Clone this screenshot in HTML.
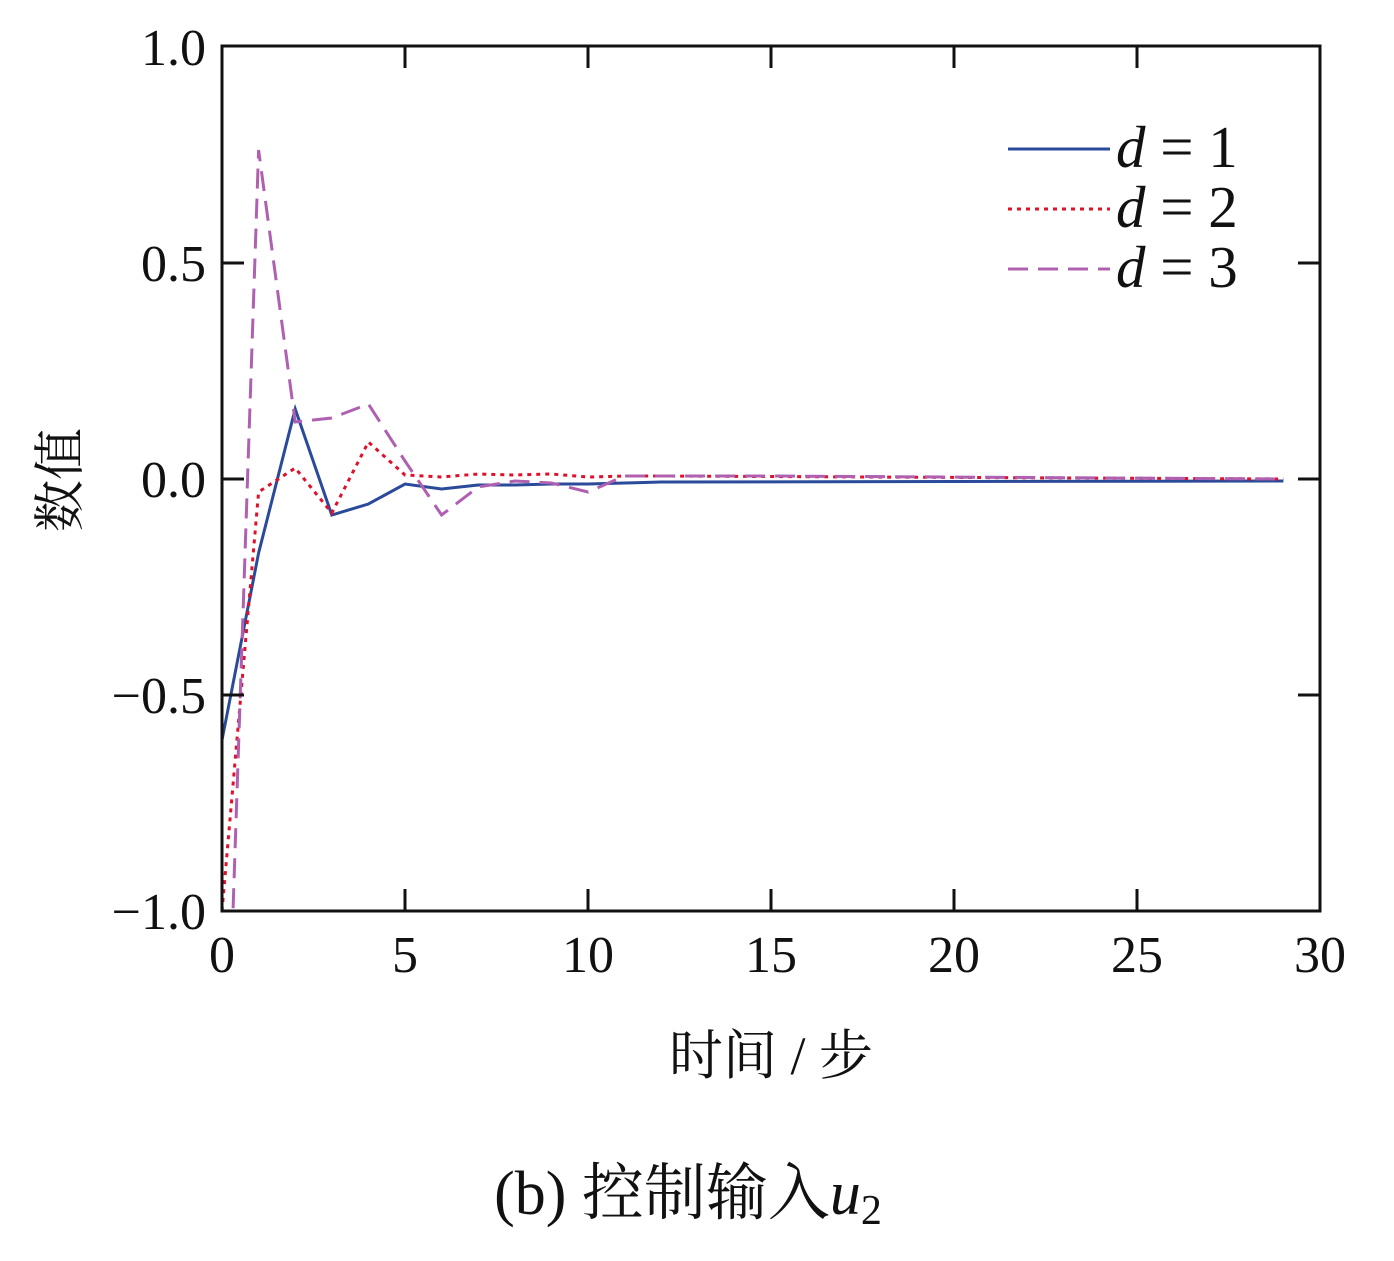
<!DOCTYPE html>
<html><head><meta charset="utf-8"><style>
body{margin:0;background:#fff;}
svg{display:block;}
text{font-family:"Liberation Serif","Noto Serif CJK SC",serif;fill:#111;}
</style></head><body>
<svg width="1394" height="1261" viewBox="0 0 1394 1261" xmlns="http://www.w3.org/2000/svg">
<defs><clipPath id="c"><rect x="222" y="46" width="1098" height="865"/></clipPath></defs>
<g clip-path="url(#c)" fill="none" stroke-width="3">
<polyline stroke="#2a4a9a" points="222,740 258.6,553 295.2,409 331.8,515 368.4,504 405,484 441.6,489 478.2,485 514.8,485 551.4,484 588,484 624.6,483 661.2,482 1283.4,481"/>
<polyline stroke="#e0102a" stroke-dasharray="4,5" points="222,911 258.6,492 295.2,468 331.8,513 368.4,442 405,475 441.6,477 478.2,474 514.8,475 551.4,474 588,477 624.6,476 661.2,476 1283.4,479"/>
<polyline stroke="#b060b0" stroke-dasharray="20,10" points="222,1238 258.6,150 295.2,422 331.8,418 368.4,404 405,461 441.6,515 478.2,487 514.8,481 551.4,483 588,492 624.6,476 661.2,476 771,476 1283.4,479"/>
</g>
<g stroke="#111" stroke-width="3" fill="none">
<rect x="222" y="46" width="1098" height="865"/>
<path d="M405,911v-22M588,911v-22M771,911v-22M954,911v-22M1137,911v-22M405,46v22M588,46v22M771,46v22M954,46v22M1137,46v22M222,263h22M222,479h22M222,695h22M1320,263h-22M1320,479h-22M1320,695h-22"/>
</g>
<g font-size="52" text-anchor="end">
<text x="206" y="65">1.0</text><text x="206" y="281">0.5</text><text x="206" y="497">0.0</text><text x="206" y="713">−0.5</text><text x="206" y="929">−1.0</text>
</g>
<g font-size="52" text-anchor="middle">
<text x="222" y="972">0</text><text x="405" y="972">5</text><text x="588" y="972">10</text><text x="771" y="972">15</text><text x="954" y="972">20</text><text x="1137" y="972">25</text><text x="1320" y="972">30</text>
</g>
<text font-size="52" text-anchor="middle" transform="translate(78,480) rotate(-90)">数值</text>
<text font-size="54" text-anchor="middle" x="771" y="1074">时间 / 步</text>
<text font-size="62" text-anchor="middle" x="688" y="1214">(b) 控制输入<tspan font-style="italic">u</tspan><tspan font-size="42" dy="10">2</tspan></text>
<g stroke-width="3">
<line x1="1008" y1="149" x2="1110" y2="149" stroke="#2a4a9a"/>
<line x1="1008" y1="209" x2="1110" y2="209" stroke="#e0102a" stroke-dasharray="4,5"/>
<line x1="1008" y1="269" x2="1110" y2="269" stroke="#b060b0" stroke-dasharray="20,10"/>
</g>
<g font-size="59">
<text x="1116" y="167"><tspan font-style="italic">d</tspan> = 1</text>
<text x="1116" y="227"><tspan font-style="italic">d</tspan> = 2</text>
<text x="1116" y="287"><tspan font-style="italic">d</tspan> = 3</text>
</g>
</svg>
</body></html>
